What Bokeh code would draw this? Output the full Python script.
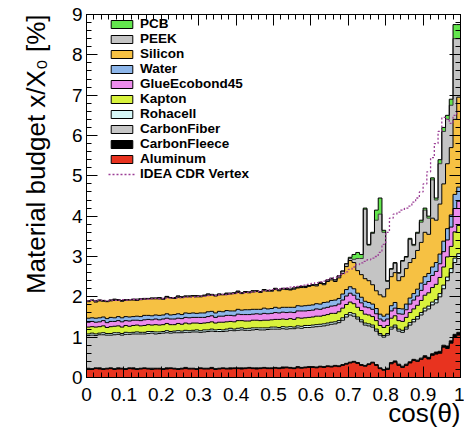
import math
import numpy as np
from bokeh.plotting import figure
from bokeh.models import (Range1d, LinearAxis, FixedTicker, Legend, LegendItem,
                          Title, CustomJSTickFormatter)
from bokeh.embed import file_html
from bokeh.resources import INLINE

# ---------------- data: 100 bins in cos(theta) from 0 to 1 ----------------
n_bins = 100
x_min, x_max = 0.0, 1.0

aluminum = [
    0.21, 0.20, 0.22, 0.21, 0.20, 0.21, 0.22, 0.20, 0.21, 0.21,
    0.20, 0.22, 0.21, 0.20, 0.21, 0.22, 0.21, 0.20, 0.21, 0.21,
    0.20, 0.21, 0.22, 0.21, 0.20, 0.21, 0.22, 0.21, 0.21, 0.20,
    0.22, 0.21, 0.21, 0.22, 0.20, 0.21, 0.22, 0.21, 0.21, 0.22,
    0.22, 0.21, 0.22, 0.23, 0.22, 0.21, 0.22, 0.23, 0.22, 0.22,
    0.23, 0.22, 0.23, 0.24, 0.23, 0.22, 0.24, 0.23, 0.24, 0.25,
    0.25, 0.24, 0.26, 0.25, 0.27, 0.26, 0.28, 0.27, 0.30, 0.33,
    0.36, 0.38, 0.35, 0.30, 0.28, 0.32, 0.36, 0.30, 0.22, 0.18,
    0.20, 0.34, 0.38, 0.30, 0.25, 0.30, 0.36, 0.42, 0.40, 0.45,
    0.50, 0.46, 0.55, 0.58, 0.60, 0.75, 0.72, 0.85, 1.00, 1.05]

carbon_fleece = [
    0.02, 0.02, 0.02, 0.03, 0.02, 0.02, 0.02, 0.02, 0.03, 0.02,
    0.02, 0.02, 0.03, 0.02, 0.02, 0.02, 0.02, 0.03, 0.02, 0.02,
    0.02, 0.03, 0.02, 0.02, 0.02, 0.02, 0.03, 0.02, 0.02, 0.02,
    0.02, 0.02, 0.02, 0.03, 0.02, 0.02, 0.02, 0.02, 0.03, 0.02,
    0.02, 0.03, 0.02, 0.02, 0.02, 0.03, 0.02, 0.02, 0.02, 0.02,
    0.02, 0.02, 0.03, 0.02, 0.02, 0.02, 0.03, 0.02, 0.02, 0.02,
    0.02, 0.02, 0.02, 0.02, 0.02, 0.02, 0.02, 0.02, 0.02, 0.02,
    0.02, 0.02, 0.02, 0.02, 0.02, 0.02, 0.02, 0.02, 0.02, 0.02,
    0.03, 0.03, 0.03, 0.03, 0.03, 0.03, 0.03, 0.03, 0.03, 0.03,
    0.04, 0.04, 0.04, 0.05, 0.05, 0.05, 0.06, 0.06, 0.07, 0.07]

carbon_fiber = [
    0.81, 0.83, 0.80, 0.82, 0.84, 0.82, 0.81, 0.84, 0.83, 0.82,
    0.85, 0.83, 0.84, 0.86, 0.85, 0.84, 0.86, 0.87, 0.85, 0.86,
    0.88, 0.87, 0.86, 0.88, 0.89, 0.88, 0.87, 0.89, 0.90, 0.91,
    0.88, 0.90, 0.91, 0.90, 0.92, 0.91, 0.90, 0.92, 0.93, 0.92,
    0.93, 0.94, 0.93, 0.92, 0.94, 0.95, 0.94, 0.93, 0.95, 0.96,
    0.95, 0.96, 0.95, 0.94, 0.96, 0.97, 0.96, 0.97, 0.98, 0.97,
    0.98, 1.00, 0.99, 1.01, 1.01, 1.04, 1.03, 1.07, 1.10, 1.15,
    1.17, 1.12, 1.08, 1.06, 1.00, 0.94, 0.87, 0.83, 0.81, 0.80,
    0.82, 0.83, 0.84, 0.82, 0.84, 0.87, 0.91, 0.93, 1.02, 1.07,
    1.11, 1.20, 1.21, 1.22, 1.35, 1.40, 1.62, 1.69, 1.78, 1.83]

rohacell = [
    0.04, 0.05, 0.04, 0.04, 0.05, 0.04, 0.04, 0.05, 0.04, 0.04,
    0.05, 0.04, 0.04, 0.05, 0.04, 0.04, 0.05, 0.04, 0.05, 0.04,
    0.04, 0.05, 0.04, 0.04, 0.05, 0.04, 0.05, 0.04, 0.04, 0.05,
    0.04, 0.05, 0.04, 0.05, 0.04, 0.05, 0.04, 0.05, 0.05, 0.04,
    0.05, 0.05, 0.04, 0.05, 0.05, 0.04, 0.05, 0.05, 0.04, 0.05,
    0.05, 0.04, 0.05, 0.05, 0.05, 0.04, 0.05, 0.05, 0.05, 0.05,
    0.05, 0.05, 0.05, 0.05, 0.05, 0.05, 0.05, 0.05, 0.06, 0.06,
    0.06, 0.06, 0.05, 0.05, 0.05, 0.05, 0.05, 0.05, 0.04, 0.04,
    0.04, 0.05, 0.05, 0.05, 0.05, 0.05, 0.06, 0.06, 0.06, 0.06,
    0.07, 0.07, 0.07, 0.08, 0.08, 0.09, 0.09, 0.10, 0.11, 0.12]

kapton = [
    0.17, 0.16, 0.17, 0.16, 0.17, 0.15, 0.17, 0.16, 0.17, 0.16,
    0.17, 0.16, 0.17, 0.17, 0.16, 0.17, 0.17, 0.16, 0.18, 0.17,
    0.17, 0.18, 0.17, 0.16, 0.18, 0.17, 0.18, 0.17, 0.18, 0.17,
    0.18, 0.17, 0.18, 0.18, 0.17, 0.18, 0.19, 0.18, 0.17, 0.18,
    0.19, 0.18, 0.19, 0.18, 0.19, 0.19, 0.18, 0.19, 0.19, 0.18,
    0.19, 0.20, 0.19, 0.19, 0.20, 0.19, 0.20, 0.20, 0.19, 0.20,
    0.20, 0.21, 0.20, 0.21, 0.21, 0.22, 0.21, 0.22, 0.24, 0.25,
    0.26, 0.25, 0.24, 0.23, 0.22, 0.22, 0.21, 0.21, 0.20, 0.20,
    0.20, 0.22, 0.23, 0.21, 0.22, 0.24, 0.25, 0.26, 0.28, 0.30,
    0.32, 0.33, 0.36, 0.38, 0.40, 0.45, 0.50, 0.55, 0.65, 0.70]

glue_ecobond45 = [
    0.12, 0.13, 0.12, 0.12, 0.13, 0.12, 0.13, 0.12, 0.13, 0.13,
    0.12, 0.13, 0.13, 0.12, 0.13, 0.14, 0.13, 0.13, 0.14, 0.13,
    0.14, 0.13, 0.14, 0.14, 0.13, 0.14, 0.14, 0.15, 0.14, 0.14,
    0.15, 0.14, 0.15, 0.15, 0.14, 0.15, 0.15, 0.16, 0.15, 0.15,
    0.16, 0.15, 0.16, 0.16, 0.15, 0.16, 0.16, 0.17, 0.16, 0.16,
    0.17, 0.16, 0.17, 0.17, 0.16, 0.17, 0.17, 0.18, 0.17, 0.17,
    0.17, 0.18, 0.17, 0.18, 0.18, 0.18, 0.19, 0.19, 0.20, 0.21,
    0.22, 0.21, 0.20, 0.19, 0.18, 0.18, 0.18, 0.17, 0.16, 0.16,
    0.16, 0.18, 0.19, 0.17, 0.18, 0.19, 0.21, 0.22, 0.23, 0.25,
    0.27, 0.28, 0.30, 0.32, 0.34, 0.38, 0.42, 0.48, 0.58, 0.60]

water = [
    0.10, 0.09, 0.10, 0.10, 0.09, 0.10, 0.10, 0.09, 0.10, 0.10,
    0.10, 0.10, 0.09, 0.10, 0.10, 0.11, 0.10, 0.10, 0.10, 0.11,
    0.10, 0.11, 0.10, 0.11, 0.11, 0.10, 0.11, 0.11, 0.11, 0.10,
    0.11, 0.11, 0.12, 0.11, 0.11, 0.12, 0.11, 0.12, 0.11, 0.12,
    0.12, 0.11, 0.12, 0.12, 0.12, 0.11, 0.12, 0.13, 0.12, 0.12,
    0.13, 0.12, 0.12, 0.13, 0.12, 0.13, 0.13, 0.12, 0.13, 0.13,
    0.13, 0.13, 0.13, 0.14, 0.13, 0.14, 0.14, 0.14, 0.15, 0.16,
    0.16, 0.16, 0.15, 0.14, 0.14, 0.13, 0.13, 0.13, 0.12, 0.12,
    0.12, 0.13, 0.14, 0.13, 0.13, 0.14, 0.15, 0.16, 0.17, 0.18,
    0.19, 0.20, 0.21, 0.22, 0.24, 0.26, 0.28, 0.30, 0.35, 0.35]

silicon = [
    0.41, 0.43, 0.40, 0.42, 0.39, 0.42, 0.41, 0.43, 0.40, 0.41,
    0.40, 0.42, 0.41, 0.39, 0.42, 0.40, 0.41, 0.42, 0.40, 0.41,
    0.39, 0.41, 0.42, 0.40, 0.41, 0.42, 0.40, 0.41, 0.42, 0.41,
    0.40, 0.42, 0.41, 0.40, 0.42, 0.41, 0.42, 0.40, 0.42, 0.43,
    0.42, 0.41, 0.43, 0.42, 0.43, 0.44, 0.42, 0.43, 0.44, 0.43,
    0.44, 0.43, 0.45, 0.44, 0.43, 0.45, 0.44, 0.46, 0.45, 0.47,
    0.48, 0.44, 0.51, 0.44, 0.51, 0.51, 0.46, 0.51, 0.51, 0.57,
    0.65, 0.65, 0.56, 0.56, 0.56, 0.54, 0.48, 0.44, 0.48, 0.48,
    0.63, 0.72, 0.74, 0.69, 0.80, 0.88, 0.88, 0.87, 0.96, 1.01,
    1.10, 0.97, 1.21, 1.05, 1.24, 1.42, 1.61, 1.67, 1.86, 2.23]

peek = [
    0.02, 0.01, 0.03, 0.02, 0.02, 0.01, 0.02, 0.03, 0.02, 0.02,
    0.02, 0.01, 0.02, 0.03, 0.02, 0.02, 0.01, 0.02, 0.02, 0.03,
    0.02, 0.02, 0.01, 0.02, 0.03, 0.02, 0.02, 0.02, 0.01, 0.03,
    0.02, 0.02, 0.03, 0.02, 0.02, 0.02, 0.01, 0.03, 0.02, 0.02,
    0.03, 0.02, 0.02, 0.02, 0.03, 0.02, 0.02, 0.03, 0.02, 0.02,
    0.03, 0.02, 0.02, 0.03, 0.02, 0.03, 0.02, 0.03, 0.03, 0.02,
    0.02, 0.03, 0.03, 0.03, 0.04, 0.04, 0.04, 0.05, 0.06, 0.07,
    0.05, 0.08, 0.30, 0.40, 1.72, 0.88, 1.27, 1.75, 2.00, 1.60,
    0.18, 0.18, 0.23, 0.18, 0.38, 0.28, 0.57, 0.32, 0.42, 0.50,
    0.55, 0.40, 0.95, 0.50, 1.00, 1.30, 1.10, 1.05, 2.00, 1.45]

pcb = [
    0.00, 0.00, 0.00, 0.00, 0.00, 0.00, 0.00, 0.00, 0.00, 0.00,
    0.00, 0.00, 0.00, 0.00, 0.00, 0.00, 0.00, 0.00, 0.00, 0.00,
    0.00, 0.00, 0.00, 0.00, 0.00, 0.00, 0.00, 0.00, 0.00, 0.00,
    0.00, 0.00, 0.00, 0.00, 0.00, 0.00, 0.00, 0.00, 0.00, 0.00,
    0.00, 0.00, 0.00, 0.00, 0.00, 0.00, 0.00, 0.00, 0.00, 0.00,
    0.00, 0.00, 0.00, 0.00, 0.00, 0.00, 0.00, 0.00, 0.00, 0.00,
    0.00, 0.00, 0.00, 0.00, 0.00, 0.00, 0.00, 0.00, 0.00, 0.00,
    0.03, 0.12, 0.15, 0.10, 0.03, 0.02, 0.03, 0.25, 0.40, 0.05,
    0.02, 0.02, 0.02, 0.02, 0.02, 0.02, 0.03, 0.03, 0.03, 0.05,
    0.05, 0.05, 0.05, 0.05, 0.10, 0.10, 0.10, 0.15, 0.35, 0.35]

idea_cdr_vertex = [
    1.90, 1.91, 1.90, 1.92, 1.91, 1.90, 1.92, 1.91, 1.92, 1.93,
    1.92, 1.93, 1.94, 1.93, 1.94, 1.95, 1.94, 1.95, 1.96, 1.95,
    1.96, 1.97, 1.96, 1.98, 1.97, 1.98, 1.99, 2.00, 1.99, 2.01,
    2.02, 2.01, 2.03, 2.04, 2.03, 2.05, 2.06, 2.05, 2.07, 2.08,
    2.09, 2.10, 2.10, 2.11, 2.12, 2.13, 2.14, 2.15, 2.16, 2.18,
    2.19, 2.20, 2.21, 2.22, 2.24, 2.25, 2.26, 2.28, 2.29, 2.31,
    2.33, 2.35, 2.37, 2.39, 2.42, 2.45, 2.48, 2.52, 2.56, 2.62,
    2.68, 2.74, 2.80, 2.84, 2.88, 2.92, 2.96, 3.00, 3.10, 3.30,
    3.60, 3.95, 4.05, 4.10, 4.15, 4.20, 4.25, 4.35, 4.45, 4.60,
    4.80, 5.10, 5.45, 5.80, 6.10, 6.45, 6.40, 6.30, 6.50, 6.60]

# stacking order bottom -> top, legend order is reversed
layer_names = ["Aluminum", "CarbonFleece", "CarbonFiber", "Rohacell", "Kapton",
               "GlueEcobond45", "Water", "Silicon", "PEEK", "PCB"]
layer_values = [aluminum, carbon_fleece, carbon_fiber, rohacell, kapton,
                glue_ecobond45, water, silicon, peek, pcb]
layer_colors = ["#e8331f", "#000000", "#c6c6c6", "#d6f7f7", "#d8f23c",
                "#ec8cec", "#8db6ea", "#f6c143", "#c4c4c4", "#63e64e"]
layer_lines = ["#000000", "#000000", "#000000", "#000000", "#000000",
               "#000000", "#000000", "#000000", "#3a3a3a", "#000000"]

x_ticks = [0, 0.1, 0.2, 0.3, 0.4, 0.5, 0.6, 0.7, 0.8, 0.9, 1]
y_ticks = [0, 1, 2, 3, 4, 5, 6, 7, 8, 9]

# ---------------- figure ----------------
p = figure(width=464, height=428, x_range=Range1d(0, 1), y_range=Range1d(0, 9),
           output_backend="svg", toolbar_location=None,
           min_border_left=86, min_border_right=4, min_border_top=14,
           min_border_bottom=51)
p.grid.visible = False
p.outline_line_color = "black"
p.background_fill_color = "white"
p.border_fill_color = "white"

edges = np.linspace(x_min, x_max, n_bins + 1)

def pad(a):
    a = np.asarray(a, dtype=float)
    return np.append(a, a[-1])

bottom = np.zeros(n_bins)
tops = []
for vals, col in zip(layer_values, layer_colors):
    top = bottom + np.asarray(vals, dtype=float)
    p.varea_step(x=edges, y1=pad(bottom), y2=pad(top), step_mode="after",
                 fill_color=col)
    tops.append(top)
    bottom = top

for top, lc in zip(tops, layer_lines):
    p.step(x=edges, y=pad(top), mode="after", line_color=lc, line_width=1)

dotted = p.step(x=edges, y=pad(idea_cdr_vertex), mode="after",
                line_color="#9c3f96", line_width=1.3, line_dash="2 2")

# legend proxies (filled boxes with black outline, nothing drawn in the plot)
nan = float("nan")
items = []
for name, col in zip(reversed(layer_names), reversed(layer_colors)):
    r = p.quad(left=[nan], right=[nan], top=[nan], bottom=[nan], fill_color=col,
               line_color="black", line_width=1)
    items.append(LegendItem(label=name, renderers=[r]))
items.append(LegendItem(label="IDEA CDR Vertex", renderers=[dotted]))

legend = Legend(items=items, location=(22, 196), padding=0, spacing=0, margin=0,
                border_line_color=None, background_fill_alpha=0,
                glyph_width=27, glyph_height=10, label_standoff=5,
                label_height=14,
                label_text_font="Liberation Sans", label_text_font_style="bold",
                label_text_font_size="13.5px", label_text_color="black")
p.add_layout(legend)

# ---------------- axes ----------------
x_minor = [round(0.02 * k, 2) for k in range(51)]
y_minor = [round(0.2 * k, 1) for k in range(46)]

def style_axis(ax, labels=True, standoff=5):
    ax.axis_line_color = "black"
    ax.axis_line_width = 1
    ax.major_tick_in = 11
    ax.major_tick_out = 0
    ax.minor_tick_in = 5
    ax.minor_tick_out = 0
    ax.major_tick_line_color = "black"
    ax.minor_tick_line_color = "black"
    ax.major_label_text_font = "Liberation Sans"
    ax.major_label_text_font_size = "19px"
    ax.major_label_text_color = "black"
    ax.major_label_standoff = standoff
    if not labels:
        ax.formatter = CustomJSTickFormatter(code="return ''")
        ax.major_label_standoff = 0

xa = p.xaxis[0]
xa.ticker = FixedTicker(ticks=x_ticks, minor_ticks=x_minor)
xa.major_label_overrides = {0: "0", 1: "1"}
style_axis(xa, True, 10)

ya = p.yaxis[0]
ya.ticker = FixedTicker(ticks=y_ticks, minor_ticks=y_minor)
style_axis(ya, True, 4)

top_ax = LinearAxis(ticker=FixedTicker(ticks=x_ticks, minor_ticks=x_minor))
style_axis(top_ax, False)
p.add_layout(top_ax, "above")

right_ax = LinearAxis(ticker=FixedTicker(ticks=y_ticks, minor_ticks=y_minor))
style_axis(right_ax, False)
p.add_layout(right_ax, "right")

# axis titles (ROOT style: right / top aligned)
x_title = "cos(\u03b8)"
y_title = "Material budget x/X\u2080 [%]"

t_below = Title(text=x_title, align="right", text_font="Liberation Sans",
                text_font_size="26px", text_font_style="normal",
                text_color="black", standoff=0)
try:
    t_below.standoff = -15
except Exception:
    pass
p.add_layout(t_below, "below")

t_left = Title(text=y_title, align="right", text_font="Liberation Sans",
               text_font_size="26px", text_font_style="normal",
               text_color="black", standoff=36)
p.add_layout(t_left, "left")

open("out.html", "w").write(file_html(p, INLINE))
